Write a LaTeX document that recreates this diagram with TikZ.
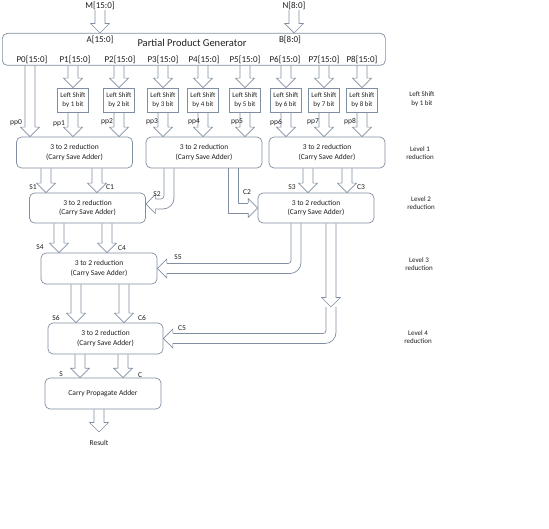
\documentclass[tikz,border=0pt]{standalone}
\usepackage{fontspec}
\setmainfont{Carlito}
\usetikzlibrary{calc}
\definecolor{edge}{RGB}{128,142,162}
\definecolor{ink}{RGB}{30,30,30}
% block arrow geometry: shaft half width, head half width, head length
\def\sw{5}\def\hw{9.5}\def\hl{9.5}
% straight hollow arrow pointing down, at the x of #1, from #2 to #3
\newcommand\vblk[3]{%
  \coordinate (va) at (#2 -| #1);
  \coordinate (vb) at (#3 -| #1);
  \draw[arw] ($(va)+(-\sw,0)$) -- ($(vb)+(-\sw,-\hl)$) -- ($(vb)+(-\hw,-\hl)$) -- (vb)
    -- ($(vb)+(\hw,-\hl)$) -- ($(vb)+(\sw,-\hl)$) -- ($(va)+(\sw,0)$);}
% hollow arrow going down from #2 (at the x of #1), then left into #3
\newcommand\bentleft[3]{%
  \coordinate (ba) at (#2 -| #1);
  \coordinate (bt) at (#3);
  \coordinate (bc) at (ba |- bt);
  \draw[arw,rounded corners=3pt] ($(ba)+(-\sw,0)$) -- ($(bc)+(-\sw,-\sw)$) -- ($(bt)+(\hl,-\sw)$);
  \draw[arw,rounded corners=11pt] ($(ba)+(\sw,0)$) -- ($(bc)+(\sw,\sw)$) -- ($(bt)+(\hl,\sw)$);
  \draw[arw] ($(bt)+(\hl,-\sw)$) -- ($(bt)+(\hl,-\hw)$) -- (bt) -- ($(bt)+(\hl,\hw)$) -- ($(bt)+(\hl,\sw)$);}
% hollow arrow going down from #2 (at the x of #1), then right into #3
\newcommand\bentright[3]{%
  \coordinate (ba) at (#2 -| #1);
  \coordinate (bt) at (#3);
  \coordinate (bc) at (ba |- bt);
  \draw[arw] ($(ba)+(\sw,0)$) -- ($(bc)+(\sw,-\sw)$) -- ($(bt)+(-\hl,-\sw)$);
  \draw[arw] ($(ba)+(-\sw,0)$) -- ($(bc)+(-\sw,\sw)$) -- ($(bt)+(-\hl,\sw)$);
  \draw[arw] ($(bt)+(-\hl,-\sw)$) -- ($(bt)+(-\hl,-\hw)$) -- (bt) -- ($(bt)+(-\hl,\hw)$) -- ($(bt)+(-\hl,\sw)$);}
\begin{document}
\begin{tikzpicture}[x=1pt,y=-1pt,
  box/.style={draw=edge,line width=0.7pt,rounded corners=5pt,fill=white,align=center,inner sep=0pt,text=ink},
  csa/.style={box,minimum width=116pt,minimum height=31pt,font=\fontsize{7.5}{9.5}\selectfont},
  shiftbox/.style={box,rounded corners=0pt,minimum width=31pt,minimum height=24pt,font=\fontsize{7}{8.5}\selectfont},
  arw/.style={draw=edge,line width=0.7pt,line join=round},
  lbl/.style={text=ink,font=\fontsize{9}{10}\selectfont,inner sep=0pt},
  sml/.style={text=ink,font=\fontsize{7.5}{9}\selectfont,inner sep=0pt,align=center},
  side/.style={text=ink,font=\fontsize{7}{8.5}\selectfont,inner sep=0pt,align=center},
]
\useasboundingbox (0,0) rectangle (549,529);

% ---- partial product generator ----
\node[box,minimum width=383pt,minimum height=32pt,anchor=north west] (ppg) at (2,33) {};
\node[lbl] (mlab) at (100,6) {M[15:0]};
\node[lbl] (nlab) at (294,6) {N[8:0]};
\node[lbl] (ain) at (100,40) {A[15:0]};
\node[text=ink,font=\fontsize{10.5}{12}\selectfont,inner sep=0pt] (ppgt) at (192,43) {Partial Product Generator};
\node[lbl] (bin) at (290,40) {B[8:0]};
\foreach \i/\x in {0/32,1/75,2/120,3/163,4/204,5/245,6/285,7/324,8/362}
  \node[lbl] (pl\i) at (\x,60) {P\i[15:0]};

\vblk{mlab}{mlab.south}{ppg.north}
\vblk{nlab}{nlab.south}{ppg.north}

% ---- shifters ----
\foreach \i/\x in {1/73,2/119,3/163,4/203,5/245,6/286,7/324,8/362}
  \node[shiftbox] (ls\i) at (\x,100) {Left Shift\\by \i\ bit};

% ---- reduction tree ----
\node[csa] (l1a) at (74.5,152.5) {3 to 2 reduction\\(Carry Save Adder)};
\node[csa] (l1b) at (204,152.5) {3 to 2 reduction\\(Carry Save Adder)};
\node[csa] (l1c) at (327,152.5) {3 to 2 reduction\\(Carry Save Adder)};
\node[csa,minimum height=30pt] (l2a) at (87.5,208) {3 to 2 reduction\\(Carry Save Adder)};
\node[csa,minimum height=30pt] (l2b) at (316,208) {3 to 2 reduction\\(Carry Save Adder)};
\node[csa] (l3) at (99,268.5) {3 to 2 reduction\\(Carry Save Adder)};
\node[csa,minimum width=115pt] (l4) at (105.5,338.5) {3 to 2 reduction\\(Carry Save Adder)};
\node[csa] (cpa) at (103,393.5) {Carry Propagate Adder};

% ---- arrows from the generator ----
\coordinate (p0x) at (30,0);
\vblk{p0x}{ppg.south}{l1a.north}
\foreach \i in {1,...,8} {\vblk{ls\i}{ppg.south}{ls\i.north}}
\foreach \i/\t in {1/l1a,2/l1a,3/l1b,4/l1b,5/l1b,6/l1c,7/l1c,8/l1c} {\vblk{ls\i}{ls\i.south}{\t.north}}

\foreach \i/\x/\y in {0/16/123,1/59/124,2/107/122,3/152/122,4/194/122,5/237/122,6/276/123,7/313/122,8/350/122}
  \node[sml] (pp\i) at (\x,\y) {pp\i};

% ---- level 1 to level 2 ----
\coordinate (s1x) at (46,0);  \coordinate (c1x) at (97,0);
\coordinate (s2x) at (169,0); \coordinate (c2x) at (233,0);
\coordinate (s3x) at (308,0); \coordinate (c3x) at (347,0);
\vblk{s1x}{l1a.south}{l2a.north}
\vblk{c1x}{l1a.south}{l2a.north}
\coordinate (s2t) at ($(l2a.east)+(0,-4)$);
\bentleft{s2x}{l1b.south}{s2t}
\bentright{c2x}{l1b.south}{l2b.west}
\vblk{s3x}{l1c.south}{l2b.north}
\vblk{c3x}{l1c.south}{l2b.north}

% ---- level 2 to level 3 ----
\coordinate (s4x) at (59,0);  \coordinate (c4x) at (107,0);
\coordinate (s5x) at (296,0); \coordinate (c5x) at (331,0);
\vblk{s4x}{l2a.south}{l3.north}
\vblk{c4x}{l2a.south}{l3.north}
\bentleft{s5x}{l2b.south}{l3.east}
\coordinate (c5m) at (331,307);
\vblk{c5x}{l2b.south}{c5m}

% ---- level 3 to level 4 ----
\coordinate (s6x) at (76,0);  \coordinate (c6x) at (124,0);
\vblk{s6x}{l3.south}{l4.north}
\vblk{c6x}{l3.south}{l4.north}
\bentleft{c5m}{c5m}{l4.east}

% ---- final adder ----
\coordinate (sx) at (80,0); \coordinate (cx) at (123,0);
\vblk{sx}{l4.south}{cpa.north}
\vblk{cx}{l4.south}{cpa.north}
\coordinate (res) at (99,432);
\vblk{res}{cpa.south}{res}
\node[sml] (result) at (99,443) {Result};

% ---- sum / carry labels ----
\foreach \n/\t/\x/\y in {ls1/S1/33/187, lc1/C1/110/187, ls2/S2/157/194, lc2/C2/247/192,
    ls3/S3/292/187, lc3/C3/361/187, ls4/S4/40/247, lc4/C4/122/248, ls5/S5/178/257,
    lc5/C5/182/328, ls6/S6/56/318, lc6/C6/142/318, lsf/S/61/374, lcf/C/140/375}
  \node[sml] (t\n) at (\x,\y) {\t};

% ---- stage labels ----
\node[side] (st0) at (422,99) {Left Shift\\by 1 bit};
\node[side] (st1) at (420,153) {Level 1\\reduction};
\node[side] (st2) at (421,203) {Level 2\\reduction};
\node[side] (st3) at (419,264) {Level 3\\reduction};
\node[side] (st4) at (418,337) {Level 4\\reduction};
\end{tikzpicture}
\end{document}
